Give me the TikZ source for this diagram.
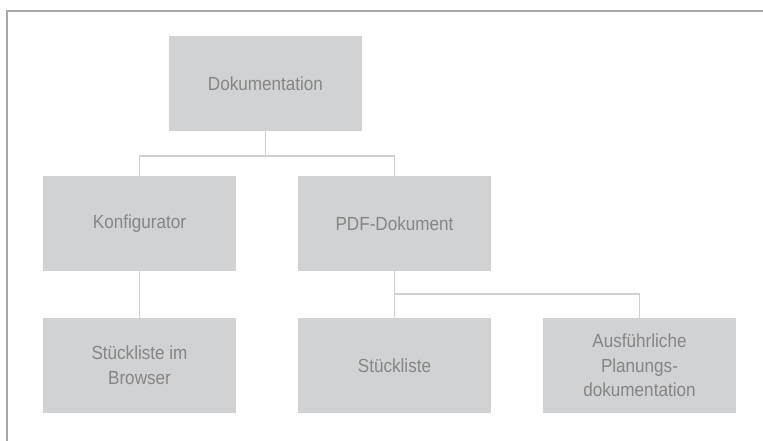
\documentclass[tikz,border=0pt]{standalone}
\usepackage{fontspec}
\setmainfont{Liberation Sans}[FakeStretch=0.9]
\definecolor{boxfill}{HTML}{D1D2D4}
\definecolor{boxtext}{HTML}{858585}
\definecolor{linec}{HTML}{D0D0D0}
\definecolor{framec}{HTML}{A8A8A8}
\tikzset{
  orgbox/.style={fill=boxfill, text=boxtext, minimum width=193pt, minimum height=95pt,
    inner sep=0pt, align=center, font=\fontsize{19}{24.7}\selectfont},
  conn/.style={draw=linec, line width=1.6pt},
  framel/.style={draw=framec, line width=1.5pt}
}
\begin{document}
\begin{tikzpicture}[x=1pt,y=-1pt]
\useasboundingbox (0,0) rectangle (763,441);
\draw[framel] (7,441) -- (7,11) -- (763,11);
\node[orgbox] (doku) at (265.5,83.5) {Dokumentation};
\node[orgbox] (konf) at (139.5,223.5) {Konfigurator};
\node[orgbox] (pdf) at (394.5,223.5) {PDF-Dokument};
\node[orgbox] (sb) at (139.5,365.5) {Stückliste im\\Browser};
\node[orgbox] (sl) at (394.5,365.5) {Stückliste};
\node[orgbox] (ap) at (639.5,365.5) {Ausführliche\\Planungs-\\dokumentation};
\coordinate (j1) at (265.5,156);
\coordinate (j2) at (394.5,294);
\draw[conn] (doku.south) -- (j1);
\draw[conn] (konf.north) |- (j1) -| (pdf.north);
\draw[conn] (konf.south) -- (sb.north);
\draw[conn] (pdf.south) -- (sl.north);
\draw[conn] (j2) -| (ap.north);
\end{tikzpicture}
\end{document}
